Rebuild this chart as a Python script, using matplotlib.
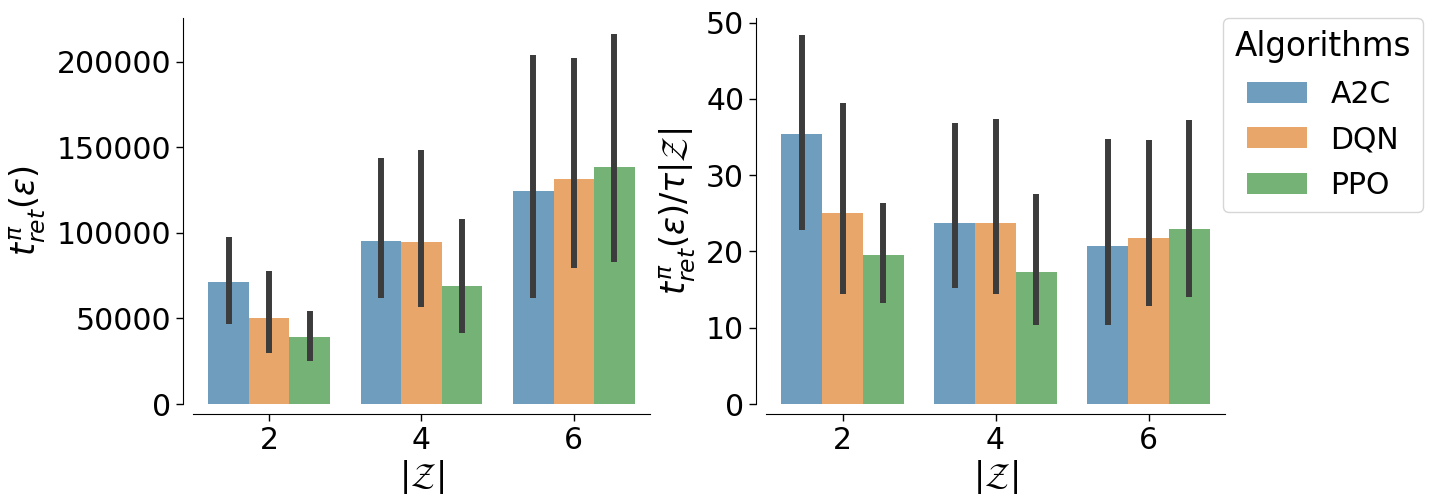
import colorsys
import numpy as np
import matplotlib
matplotlib.use("Agg")
import matplotlib.pyplot as plt
from matplotlib.patches import Patch

# ---- data ----
sizes = ["2", "4", "6"]
algorithms = ["A2C", "DQN", "PPO"]

# left panel: t_ret
ret_mean = {
    "A2C": [71200, 95200, 124500],
    "DQN": [50100, 94600, 131500],
    "PPO": [39000, 69100, 138700],
}
ret_low = {
    "A2C": [46800, 61800, 61800],
    "DQN": [29700, 56600, 79800],
    "PPO": [25400, 41400, 83100],
}
ret_high = {
    "A2C": [97500, 144000, 204300],
    "DQN": [77800, 148700, 202300],
    "PPO": [54400, 108300, 216500],
}

# right panel: normalised t_ret
norm_mean = {
    "A2C": [35.4, 23.7, 20.7],
    "DQN": [25.0, 23.7, 21.8],
    "PPO": [19.5, 17.3, 23.0],
}
norm_low = {
    "A2C": [22.8, 15.2, 10.4],
    "DQN": [14.4, 14.4, 12.8],
    "PPO": [13.3, 10.3, 14.0],
}
norm_high = {
    "A2C": [48.4, 36.8, 34.8],
    "DQN": [39.5, 37.3, 34.6],
    "PPO": [26.4, 27.5, 37.2],
}

base_colors = ["#1f77b4", "#ff7f0e", "#2ca02c"]


def desaturate(hexcol, prop):
    r, g, b = matplotlib.colors.to_rgb(hexcol)
    h, l, s = colorsys.rgb_to_hls(r, g, b)
    return colorsys.hls_to_rgb(h, l, s * prop)


colors = [desaturate(c, 0.75) for c in base_colors]
ALPHA = 0.7
FS_TICK = 21.5
FS_LABEL = 24
ERR_COLOR = "#3c3c3c"

fig = plt.figure(figsize=(14.4, 5.04), dpi=100)
ax1 = fig.add_axes([193 / 1440, 100 / 504, 457 / 1440, 386 / 504])
ax2 = fig.add_axes([766 / 1440, 100 / 504, 459 / 1440, 386 / 504])


def draw(ax, mean, low, high, ylim, yticks, ylabel):
    x = np.arange(len(sizes))
    n = len(algorithms)
    w = 0.8 / n
    for i, alg in enumerate(algorithms):
        xs = x - 0.4 + w * (i + 0.5)
        ax.bar(xs, mean[alg], width=w, color=colors[i], alpha=ALPHA,
               linewidth=0, label=alg, zorder=2)
        for xi, lo, hi in zip(xs, low[alg], high[alg]):
            ax.plot([xi, xi], [lo, hi], color=ERR_COLOR, lw=4.3,
                    solid_capstyle="butt", zorder=3)
    ax.set_xlim(-0.5, len(sizes) - 0.5)
    ax.set_ylim(*ylim)
    ax.set_xticks(x)
    ax.set_xticklabels(sizes)
    ax.set_yticks(yticks)
    ax.tick_params(labelsize=FS_TICK, length=5, width=1)
    ax.set_xlabel(r"$|\mathcal{Z}|$", fontsize=FS_LABEL, labelpad=2)
    ax.set_ylabel(ylabel, fontsize=FS_LABEL, labelpad=6)
    for s in ("top", "right"):
        ax.spines[s].set_visible(False)
    ax.spines["left"].set_position(("outward", 7.2))
    ax.spines["bottom"].set_position(("outward", 7.2))


draw(ax1, ret_mean, ret_low, ret_high, (0, 225700),
     [0, 50000, 100000, 150000, 200000], r"$t^{\pi}_{ret}(\varepsilon)$")
draw(ax2, norm_mean, norm_low, norm_high, (0, 50.6),
     [0, 10, 20, 30, 40, 50], r"$t^{\pi}_{ret}(\varepsilon)/\tau|\mathcal{Z}|$")

handles = [Patch(facecolor=colors[i], alpha=ALPHA, label=a)
           for i, a in enumerate(algorithms)]
ax2.legend(handles=handles, title="Algorithms", loc="upper left",
           bbox_to_anchor=(0.995, 1.0), borderaxespad=0,
           fontsize=FS_TICK, title_fontsize=23.5, frameon=True,
           labelspacing=0.56)

fig.savefig("out.png", dpi=100)
